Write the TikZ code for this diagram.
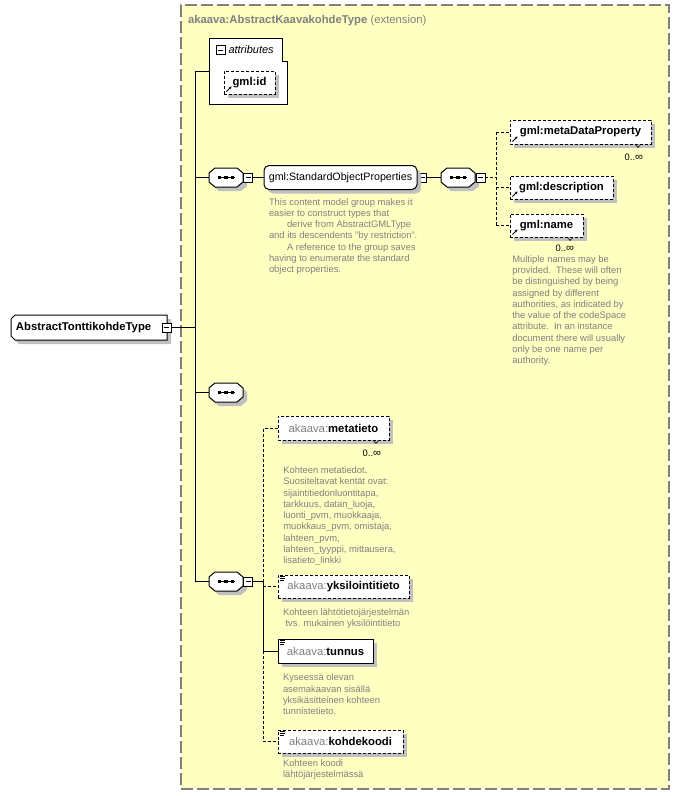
\documentclass[tikz,border=0pt]{standalone}
\usepackage{fontspec}
\setmainfont{Liberation Sans}
\usetikzlibrary{shadows,arrows.meta}
\pgfdeclarelayer{back}
\pgfdeclarelayer{bg}
\pgfsetlayers{back,bg,main}
\definecolor{bgyellow}{RGB}{255,255,194}
\definecolor{dgray}{RGB}{128,128,128}
\definecolor{shgray}{RGB}{192,192,192}
\newcommand\elf{\fontsize{11.3}{13}\selectfont}
\newcommand\dsf{\fontsize{9.4}{11.3}\selectfont}
\newcommand\pfx{\textcolor{dgray}{\mdseries akaava:}}
\newcommand\occt{0..{\fontsize{11}{12}\selectfont ∞}}
\newcommand\octpath[3]{([shift={(#2+6pt,#3)}]#1.north west) -- ([shift={(#2-6pt,#3)}]#1.north east) -- ([shift={(#2,#3-5pt)}]#1.north east) -- ([shift={(#2,#3+5pt)}]#1.south east) -- ([shift={(#2-6pt,#3)}]#1.south east) -- ([shift={(#2+6pt,#3)}]#1.south west) -- ([shift={(#2,#3+5pt)}]#1.south west) -- ([shift={(#2,#3-5pt)}]#1.north west) -- cycle}
\newcommand\typepath[3]{([shift={(#2+4pt,#3)}]#1.north west) -- ([shift={(#2,#3)}]#1.north east) -- ([shift={(#2,#3)}]#1.south east) -- ([shift={(#2+4pt,#3)}]#1.south west) -- ([shift={(#2,#3+4pt)}]#1.south west) -- ([shift={(#2,#3-4pt)}]#1.north west) -- cycle}
\newcommand\mult[1]{\draw[line width=0.6pt] ([xshift=-16pt]#1.south east) -- ([shift={(-13pt,-3.5pt)}]#1.south east) -- ([xshift=-10pt]#1.south east);}
\begin{document}
\begin{tikzpicture}[x=1pt,y=-1pt,
  every node/.style={inner sep=0pt, outer sep=0pt},
  con/.style={line width=1pt},
  dcon/.style={line width=1pt, dash pattern=on 3pt off 2pt},
  sh/.style={drop shadow={shadow xshift=4pt, shadow yshift=-4pt, fill=shgray, opacity=1}},
  elem/.style={draw, line width=1pt, fill=white, sh, font=\elf\bfseries, minimum height=24pt},
  optel/.style={elem, dash pattern=on 3pt off 2pt},
  refic/.style={path picture={\draw[solid, line width=0.8pt, -{Stealth[length=2.6pt,width=3pt]}] ([shift={(2.5pt,2.5pt)}]path picture bounding box.south west) -- ++(5pt,5pt);}},
  simic/.style={path picture={\draw[solid, line width=0.7pt] ([shift={(1.5pt,-1.8pt)}]path picture bounding box.north west) -- ++(5.5pt,0pt) ([shift={(1.5pt,-3.6pt)}]path picture bounding box.north west) -- ++(5.5pt,0pt) ([shift={(1.5pt,-5.4pt)}]path picture bounding box.north west) -- ++(4.5pt,0pt);}},
  mbox/.style={draw, fill=white, line width=1pt, minimum size=9pt, path picture={\draw[solid, line width=1pt] ([xshift=2pt]path picture bounding box.west) -- ([xshift=-2pt]path picture bounding box.east);}},
  seqn/.style={minimum width=34pt, minimum height=19pt},
  desc/.style={anchor=north west, align=left, text=dgray, font=\dsf},
  occ/.style={anchor=base east, font=\dsf}
]
\useasboundingbox (0,0) rectangle (680,796);
\begin{pgfonlayer}{back}
  \fill[white] (0,0) rectangle (680,796);
  \node[draw=dgray, fill=bgyellow, line width=1.1pt, dash pattern=on 12pt off 4pt, minimum width=488pt, minimum height=784pt] (ext) at (425,397) {};
\end{pgfonlayer}

% title
\node[anchor=base west, font=\elf, text=dgray] (title) at (188,23) {\textbf{akaava:AbstractKaavakohdeType} (extension)};

% type
\node[minimum width=156pt, minimum height=25pt, text width=146pt, align=left, font=\elf\bfseries] (type) at (89,327.5) {AbstractTonttikohdeType};
\node[mbox] (m0) at (166.5,327.5) {};

% attributes
\node[minimum width=78pt, minimum height=66pt] (attr) at (248,71) {};
\node[mbox] (ma) at (220.5,50) {};
\node[anchor=base west, font=\fontsize{11}{13}\selectfont\itshape] (attrlbl) at (228.5,53.5) {attributes};
\node[optel, refic, minimum width=51pt, minimum height=23pt] (gid) at (249.5,82.5) {gml:id};

% sequences
\node[seqn] (s1) at (226,177.5) {};
\node[seqn] (s2) at (458,177.5) {};
\node[seqn] (s3) at (226,392.5) {};
\node[seqn] (s4) at (226,581.5) {};
\node[mbox] (m1) at (248,177.5) {};
\node[mbox] (m2) at (422,177.5) {};
\node[mbox] (m3) at (480.5,177.5) {};
\node[mbox] (m4) at (248,581.5) {};

\begin{pgfonlayer}{bg}
  \fill[shgray] \typepath{type}{4pt}{-4pt};
  \filldraw[fill=white, line width=1pt] \typepath{type}{0pt}{0pt};
  \filldraw[fill=white, line width=1pt] (attr.north west) -- ([xshift=-5pt]attr.north east) -- ([shift={(-5pt,-23pt)}]attr.north east) -- ([yshift=-23pt]attr.north east) -- (attr.south east) -- (attr.south west) -- cycle;
  \foreach \n in {s1,s2,s3,s4}{
    \fill[shgray] \octpath{\n}{4pt}{-4pt};
    \filldraw[fill=white, line width=1pt] \octpath{\n}{0pt}{0pt};
  }
\end{pgfonlayer}
\foreach \n in {s1,s2,s3,s4}{
  \draw[line width=1pt] ([xshift=-8.5pt]\n.center) -- ([xshift=8.5pt]\n.center);
  \foreach \dx in {-6.7,0,6.7}{
    \fill ([xshift=\dx pt]\n.center) +(-1.7pt,-1.3pt) rectangle +(1.7pt,1.3pt);
  }
}

% standard object properties
\node[draw, line width=1pt, fill=white, rounded corners=5pt, sh, minimum width=153pt, minimum height=24pt, font=\fontsize{10.7}{12}\selectfont] (sop) at (340.5,177.5) {gml:StandardObjectProperties};
\node[desc] (dsop) at (269,197.1) {\strut This content model group makes it\\easier to construct types that\\\hspace*{18pt}derive from AbstractGMLType\\and its descendents "by restriction".\\\hspace*{18pt}A reference to the group saves\\having to enumerate the standard\\object properties.};

% gml elements
\node[optel, refic, minimum width=141pt] (mdp) at (580.5,132) {gml:metaDataProperty};
\mult{mdp}
\node[occ] (omdp) at (643,160) {\occt};
\node[optel, refic, minimum width=103pt, minimum height=23pt] (gdesc) at (561.5,187.5) {gml:description};
\node[optel, refic, minimum width=73pt, minimum height=23pt] (gname) at (546.5,225.5) {gml:name};
\mult{gname}
\node[occ] (oname) at (574,251.5) {\occt};
\node[desc] (dname) at (512.3,254.2) {\strut Multiple names may be\\provided.\ \ These will often\\be distinguished by being\\assigned by different\\authorities, as indicated by\\the value of the codeSpace\\attribute.\ \ In an instance\\document there will usually\\only be one name per\\authority.};

% akaava elements
\node[optel, minimum width=111pt] (meta) at (333.5,428) {\pfx metatieto};
\mult{meta}
\node[occ] (ometa) at (381,456) {\occt};
\node[desc] (dmeta) at (283.3,465.5) {\strut Kohteen metatiedot.\\Suositeltavat kentät ovat:\\sijaintitiedonluontitapa,\\tarkkuus, datan\_luoja,\\luonti\_pvm, muokkaaja,\\muokkaus\_pvm, omistaja,\\lahteen\_pvm,\\lahteen\_tyyppi, mittausera,\\lisatieto\_linkki};

\node[optel, simic, minimum width=131pt, minimum height=23pt] (yks) at (343.5,586.5) {\pfx yksilointitieto};
\node[desc] (dyks) at (283,607.1) {\strut Kohteen lähtötietojärjestelmän\\\hspace*{2.6pt}tvs. mukainen yksilöintitieto};

\node[elem, simic, minimum width=95pt] (tun) at (325.5,651) {\pfx tunnus};
\node[desc] (dtun) at (283,672.8) {\strut Kyseessä olevan\\asemakaavan sisällä\\yksikäsitteinen kohteen\\tunnistetieto.};

\node[optel, simic, minimum width=125pt, minimum height=23pt] (koh) at (340.5,741.5) {\pfx kohdekoodi};
\node[desc] (dkoh) at (283,758.1) {\strut Kohteen koodi\\lähtöjärjestelmässä};

% connectors
\coordinate (busT) at (195,71);
\coordinate (busB) at (195,581.5);
\draw[con] (busT) -- (busB);
\draw[con] (busT) -- (attr.west |- busT);
\draw[con] (m0.east) -- (busT |- m0.east);
\draw[con] (busT |- s1.west) -- (s1.west);
\draw[con] (busT |- s3.west) -- (s3.west);
\draw[con] (busB) -- (s4.west);
\draw[con] (m1.east) -- (sop.west);
\draw[con] (m2.east) -- (s2.west);

\coordinate (g2) at (496,177.5);
\draw[dcon] (m3.east) -- (g2);
\draw[dcon] (g2 |- mdp.west) -- (g2 |- gname.west);
\draw[dcon] (g2 |- mdp.west) -- (mdp.west);
\draw[dcon] (g2 |- gdesc.west) -- (gdesc.west);
\draw[dcon] (g2 |- gname.west) -- (gname.west);

\coordinate (g4) at (263,581.5);
\draw[con] (m4.east) -- (g4);
\draw[dcon] (g4) -- (g4 |- meta.west) -- (meta.west);
\draw[dcon] (g4) -- (g4 |- yks.west) -- (yks.west);
\draw[con] (g4) -- (g4 |- tun.west) -- (tun.west);
\draw[dcon] (g4 |- tun.west) -- (g4 |- koh.west) -- (koh.west);
\end{tikzpicture}
\end{document}
